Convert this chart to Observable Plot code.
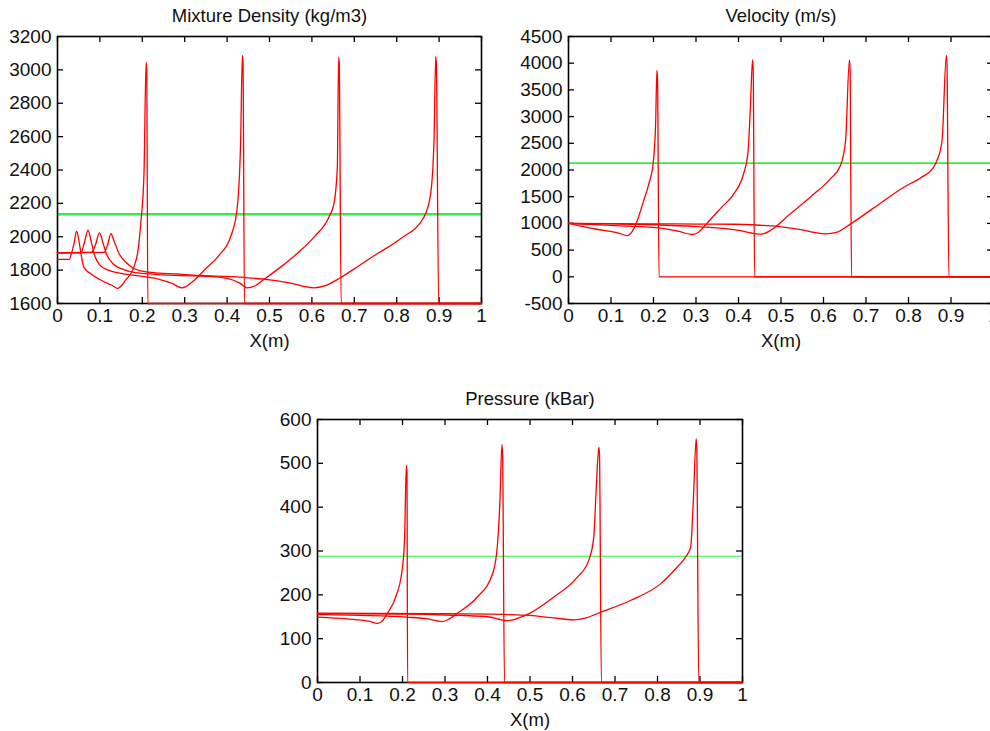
<!DOCTYPE html>
<html>
<head>
<meta charset="utf-8">
<script src="https://cdn.jsdelivr.net/npm/d3@7"></script>
<script src="https://cdn.jsdelivr.net/npm/@observablehq/plot@0.6"></script>
<style>
  html, body { margin: 0; padding: 0; background: #fff; overflow: hidden; }
  #root { position: relative; width: 990px; height: 731px; overflow: hidden; font-family: "Liberation Sans", Arial, sans-serif; }
  #root > div { position: absolute; }
  svg { overflow: visible; max-width: none !important; }
</style>
</head>
<body>
<div id="root">
  <div id="p1" style="left:0px;top:0px"></div>
  <div id="p2" style="left:500px;top:0px"></div>
  <div id="p3" style="left:260px;top:380px"></div>
</div>
<script>
// ---------- Data ----------
const xTicks = [0, 0.1, 0.2, 0.3, 0.4, 0.5, 0.6, 0.7, 0.8, 0.9, 1];

// Mixture density (kg/m3), four time snapshots
const densityTicks = [1600, 1800, 2000, 2200, 2400, 2600, 2800, 3000, 3200];
const densityRef = 2135;
const density1 = [[0,1865],[0.028,1865],[0.033,1900],[0.039,1960],[0.045,2033],[0.051,1970],[0.056,1890],[0.062,1818],[0.08,1775],[0.101,1742],[0.12,1718],[0.129,1708],[0.142,1690],[0.15,1705],[0.16,1738],[0.18,1818],[0.19,1920],[0.197,2097],[0.204,2379],[0.209,3046],[0.2105,3000],[0.213,1600],[1,1600]];
const density2 = [[0,1904],[0.055,1904],[0.063,1960],[0.072,2039],[0.08,1965],[0.088,1885],[0.1,1830],[0.12,1800],[0.15,1780],[0.2,1762],[0.24,1745],[0.27,1720],[0.294,1694],[0.305,1705],[0.322,1738],[0.35,1810],[0.377,1877],[0.412,2027],[0.424,2177],[0.432,2577],[0.436,3086],[0.4375,3050],[0.441,1600],[1,1600]];
const density3 = [[0,1904],[0.08,1906],[0.09,1955],[0.099,2025],[0.107,1965],[0.115,1900],[0.13,1840],[0.16,1800],[0.2,1780],[0.25,1772],[0.3,1767],[0.35,1763],[0.4,1750],[0.43,1722],[0.447,1694],[0.465,1705],[0.49,1750],[0.526,1818],[0.57,1910],[0.605,1998],[0.64,2117],[0.652,2197],[0.66,2417],[0.663,3076],[0.6645,3040],[0.669,1600],[1,1600]];
const density4 = [[0,1904],[0.11,1906],[0.118,1950],[0.126,2018],[0.134,1970],[0.145,1900],[0.16,1850],[0.18,1810],[0.2,1794],[0.24,1782],[0.28,1777],[0.32,1770],[0.4,1762],[0.45,1754],[0.5,1742],[0.55,1722],[0.58,1703],[0.605,1694],[0.63,1705],[0.667,1754],[0.71,1825],[0.754,1898],[0.809,1988],[0.864,2117],[0.88,2257],[0.888,2577],[0.892,3080],[0.8935,3040],[0.899,1600],[1,1600]];

// Velocity (m/s)
const velocityTicks = [-500, 0, 500, 1000, 1500, 2000, 2500, 3000, 3500, 4000, 4500];
const velocityRef = 2127;
const velocity1 = [[0,1000],[0.06,900],[0.12,815],[0.138,772],[0.15,850],[0.162,1054],[0.175,1380],[0.189,1741],[0.199,2116],[0.205,2865],[0.208,3863],[0.2095,3700],[0.213,0],[1,0]];
const velocity2 = [[0,1000],[0.1,962],[0.212,917],[0.26,850],[0.291,792],[0.305,830],[0.326,1004],[0.36,1300],[0.389,1554],[0.413,1958],[0.422,2303],[0.428,3176],[0.433,4063],[0.4345,3900],[0.438,0],[1,0]];
const velocity3 = [[0,1000],[0.1,990],[0.2,975],[0.3,940],[0.405,866],[0.43,820],[0.448,800],[0.46,810],[0.475,866],[0.522,1179],[0.57,1500],[0.616,1834],[0.64,2084],[0.652,2552],[0.661,4063],[0.6625,3900],[0.666,0],[1,0]];
const velocity4 = [[0,1000],[0.2,992],[0.3,988],[0.388,984],[0.45,965],[0.495,941],[0.55,880],[0.58,830],[0.605,805],[0.63,830],[0.664,992],[0.72,1300],[0.789,1677],[0.83,1860],[0.856,2022],[0.867,2178],[0.879,2552],[0.889,4144],[0.8905,4000],[0.895,0],[1,0]];

// Pressure (kBar)
const pressureTicks = [0, 100, 200, 300, 400, 500, 600];
const pressureRef = 288;
const pressure1 = [[0,149],[0.07,145],[0.12,140],[0.142,135],[0.152,140],[0.164,157],[0.184,195],[0.199,256],[0.205,331],[0.209,495],[0.2105,480],[0.212,0],[1,0]];
const pressure2 = [[0,155],[0.1,153],[0.211,149],[0.26,145],[0.293,139],[0.31,145],[0.329,158],[0.376,195],[0.412,248],[0.423,309],[0.429,408],[0.434,543],[0.4355,520],[0.44,0],[1,0]];
const pressure3 = [[0,157],[0.2,156],[0.3,154],[0.4,150],[0.446,141],[0.46,143],[0.478,149],[0.489,153],[0.556,195],[0.611,240],[0.638,278],[0.65,331],[0.656,446],[0.662,537],[0.6635,520],[0.668,0],[1,0]];
const pressure4 = [[0,158],[0.3,157],[0.45,155],[0.5,153],[0.55,148],[0.603,143],[0.63,147],[0.666,160],[0.736,187],[0.807,225],[0.846,263],[0.866,286],[0.878,309],[0.884,408],[0.891,556],[0.8925,530],[0.897,0],[1,0]];

const panels = [
  {id: "p1", title: "Mixture Density (kg/m3)", xlabel: "X(m)", yDomain: [1600, 3200], yTicks: densityTicks, ref: densityRef, refWidth: 2.4,
   series: [density1, density2, density3, density4],
   width: 490, height: 360, ml: 57, mr: 9, mt: 36, mb: 57},
  {id: "p2", title: "Velocity (m/s)", xlabel: "X(m)", yDomain: [-500, 4500], yTicks: velocityTicks, ref: velocityRef, refWidth: 1.8,
   series: [velocity1, velocity2, velocity3, velocity4],
   width: 500, height: 360, ml: 68, mr: 7, mt: 36, mb: 57},
  {id: "p3", title: "Pressure (kBar)", xlabel: "X(m)", yDomain: [0, 600], yTicks: pressureTicks, ref: pressureRef, refWidth: 1.2,
   series: [pressure1, pressure2, pressure3, pressure4],
   width: 490, height: 351, ml: 57, mr: 8, mt: 39, mb: 49}
];

const fmtX = d => String(+d.toFixed(1));
const tickLen = 6;

for (const p of panels) {
  const innerH = p.height - p.mt - p.mb;
  const innerW = p.width - p.ml - p.mr;
  const lines = p.series.map(s => Plot.line(s, {x: d => d[0], y: d => d[1], stroke: "#ff0000", strokeWidth: 1.3, curve: "monotone-x"}));
  const chart = Plot.plot({
    width: p.width,
    height: p.height,
    marginLeft: p.ml, marginRight: p.mr, marginTop: p.mt, marginBottom: p.mb,
    style: {fontFamily: "'Liberation Sans', Arial, sans-serif", background: "white", overflow: "visible", maxWidth: "none"},
    x: {domain: [0, 1]},
    y: {domain: p.yDomain},
    marks: [
      Plot.ruleY([p.ref], {stroke: "#33ee44", strokeWidth: p.refWidth}),
      Plot.frame({stroke: "black", strokeWidth: 1.6}),
      // inward ticks on all four sides
      Plot.gridX(xTicks, {insetTop: innerH - tickLen, stroke: "black", strokeOpacity: 1, strokeWidth: 1.3}),
      Plot.gridX(xTicks, {insetBottom: innerH - tickLen, stroke: "black", strokeOpacity: 1, strokeWidth: 1.3}),
      Plot.gridY(p.yTicks, {insetRight: innerW - tickLen, stroke: "black", strokeOpacity: 1, strokeWidth: 1.3}),
      Plot.gridY(p.yTicks, {insetLeft: innerW - tickLen, stroke: "black", strokeOpacity: 1, strokeWidth: 1.3}),
      ...lines,
      Plot.axisX(xTicks, {tickSize: 0, tickPadding: 5, label: null, tickFormat: fmtX, fontSize: 19, fill: "#111"}),
      Plot.axisY(p.yTicks, {tickSize: 0, tickPadding: 6, label: null, tickFormat: d => String(d), fontSize: 19, fill: "#111"}),
      Plot.text([p.title], {frameAnchor: "top", lineAnchor: "middle", dy: -20, fontSize: 18.5, fill: "#111"}),
      Plot.text([p.xlabel], {frameAnchor: "bottom", lineAnchor: "middle", dy: 38, fontSize: 18.5, fill: "#111"})
    ]
  });
  document.getElementById(p.id).appendChild(chart);
}
</script>
</body>
</html>
